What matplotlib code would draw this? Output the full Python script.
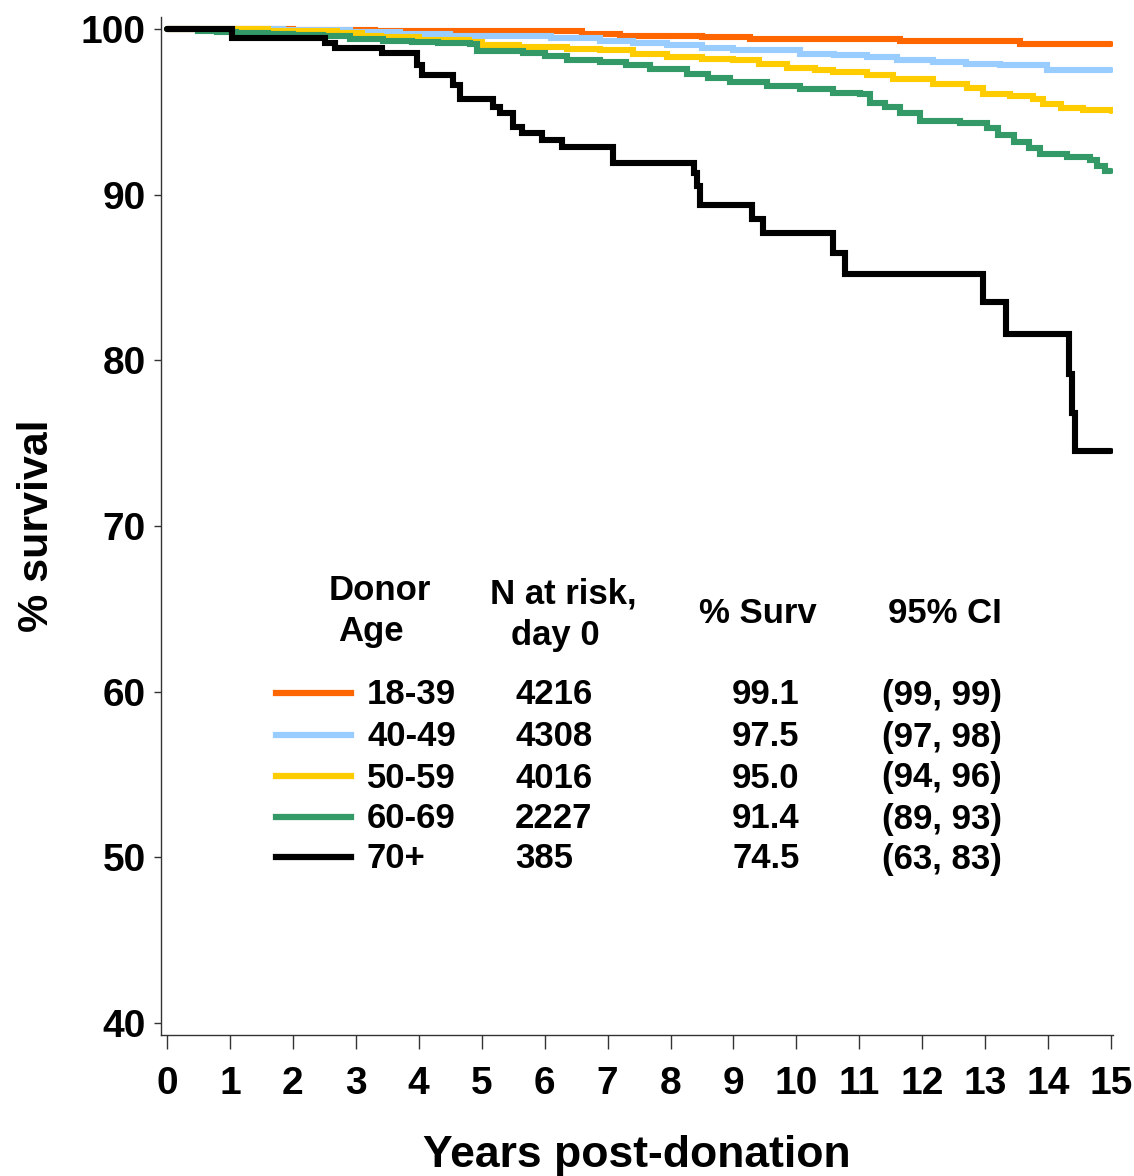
import numpy as np
import matplotlib
matplotlib.use('Agg')
import matplotlib.pyplot as plt
from matplotlib.lines import Line2D

plt.rcParams['font.family'] = ['Liberation Sans', 'DejaVu Sans']
plt.rcParams['font.weight'] = 'bold'

# Kaplan-Meier style step curves (years, % survival)
t_18_39 = [0, 2.0, 3.3, 5.0, 6.6, 7.2, 8.5, 9.26, 11.65, 13.55, 15.0]
s_18_39 = [100, 99.95, 99.9, 99.85, 99.7, 99.6, 99.5, 99.4, 99.25, 99.1, 99.1]

t_40_49 = [0, 1.84, 2.9, 3.7, 4.5, 5.3, 6.1, 6.88, 7.4, 7.94, 8.5, 9.0, 10.06,
           10.6, 11.12, 11.6, 12.17, 12.7, 13.24, 13.98, 15.0]
s_40_49 = [100, 99.95, 99.8, 99.7, 99.6, 99.55, 99.45, 99.3, 99.15, 99.0, 98.85,
           98.7, 98.5, 98.4, 98.3, 98.15, 98.0, 97.9, 97.8, 97.55, 97.5]

t_50_59 = [0, 1.0, 1.6, 2.2, 2.7, 3.1, 3.4, 4.0, 4.8, 5.0, 5.6, 6.35, 6.88, 7.4,
           7.94, 8.5, 9.0, 9.4, 9.85, 10.3, 10.58, 11.12, 11.54, 12.17, 12.71,
           12.97, 13.4, 13.76, 13.92, 14.2, 14.56, 15.0]
s_50_59 = [100, 99.98, 99.9, 99.85, 99.75, 99.6, 99.5, 99.35, 99.2, 99.05, 98.9,
           98.8, 98.7, 98.5, 98.3, 98.2, 98.1, 97.9, 97.65, 97.5, 97.4, 97.2,
           96.95, 96.7, 96.45, 96.1, 95.95, 95.75, 95.45, 95.25, 95.1, 95.05]

t_60_69 = [0, 0.5, 0.8, 1.1, 1.6, 2.0, 2.48, 2.9, 3.43, 3.9, 4.3, 4.81, 4.92,
           5.66, 6.0, 6.35, 6.88, 7.3, 7.67, 8.26, 8.6, 8.95, 9.53, 10.06, 10.58,
           11.01, 11.17, 11.4, 11.65, 11.97, 12.6, 13.03, 13.2, 13.45, 13.7,
           13.87, 14.3, 14.67, 14.78, 14.9, 15.0]
s_60_69 = [100, 99.9, 99.8, 99.75, 99.7, 99.65, 99.55, 99.4, 99.25, 99.2, 99.15,
           99.1, 98.65, 98.55, 98.35, 98.15, 98.0, 97.85, 97.6, 97.25, 97.05,
           96.8, 96.55, 96.35, 96.15, 96.05, 95.5, 95.3, 94.95, 94.45, 94.3,
           94.0, 93.6, 93.2, 92.8, 92.45, 92.3, 92.1, 91.7, 91.4, 91.4]

t_70 = [0, 1.03, 2.51, 2.67, 3.42, 3.97, 4.05, 4.54, 4.66, 5.18, 5.29, 5.50,
        5.64, 5.96, 6.28, 7.09, 8.37, 8.42, 8.47, 9.30, 9.47, 10.58, 10.77,
        12.97, 13.33, 14.33, 14.38, 14.42, 15.0]
s_70 = [100, 99.45, 99.15, 98.85, 98.55, 97.8, 97.2, 96.6, 95.8, 95.3, 94.9,
        94.1, 93.7, 93.3, 92.9, 91.9, 91.3, 90.5, 89.4, 88.5, 87.7, 86.5, 85.2,
        83.5, 81.6, 79.2, 76.8, 74.5, 74.5]

ages = ['18-39', '40-49', '50-59', '60-69', '70+']
n_at_risk = ['4216', '4308', '4016', '2227', '385']
pct_surv = ['99.1', '97.5', '95.0', '91.4', '74.5']
ci = ['(99, 99)', '(97, 98)', '(94, 96)', '(89, 93)', '(63, 83)']
colors = ['#FF6600', '#99CCFF', '#FFCC00', '#339966', '#000000']

curves = [(t_18_39, s_18_39), (t_40_49, s_40_49), (t_50_59, s_50_59),
          (t_60_69, s_60_69), (t_70, s_70)]

W, H = 1134, 1176
fig = plt.figure(figsize=(W / 100, H / 100), dpi=100)
ax = fig.add_axes([161 / W, 1 - 1035 / H, (1113 - 161) / W, (1035 - 17) / H])

for (t, s), c in zip(curves, colors):
    ax.step(t, s, where='post', color=c, lw=4.4, solid_capstyle='round',
            solid_joinstyle='miter')

ax.set_xlim(-0.095, 15.03)
ax.set_ylim(39.28, 100.72)
ax.set_xticks(range(0, 16))
ax.set_yticks([40, 50, 60, 70, 80, 90, 100])
for sp in ['top', 'right']:
    ax.spines[sp].set_visible(False)
for sp in ['left', 'bottom']:
    ax.spines[sp].set_linewidth(1.0)
    ax.spines[sp].set_color('#333333')
ax.tick_params(axis='x', direction='out', length=10, width=1, pad=12,
               labelsize=28, color='#333333')
ax.tick_params(axis='y', direction='out', length=5, width=1, pad=6,
               labelsize=28, color='#333333')
for lab in ax.get_xticklabels() + ax.get_yticklabels():
    lab.set_fontweight('bold')

ax.set_xlabel('Years post-donation', fontsize=32, fontweight='bold', labelpad=24)
ax.set_ylabel('% survival', fontsize=31, fontweight='bold', labelpad=17)


def fx(px):
    return px / W


def fy(py):
    return 1 - py / H


fs = 25
# header
fig.text(fx(380), fy(591), 'Donor', ha='center', va='center', fontsize=fs, fontweight='bold')
fig.text(fx(371), fy(632), 'Age', ha='center', va='center', fontsize=fs, fontweight='bold')
fig.text(fx(563), fy(594), 'N at risk,', ha='center', va='center', fontsize=fs, fontweight='bold')
fig.text(fx(555), fy(635), 'day 0', ha='center', va='center', fontsize=fs, fontweight='bold')
fig.text(fx(758), fy(613), '% Surv', ha='center', va='center', fontsize=fs, fontweight='bold')
fig.text(fx(945), fy(613), '95% CI', ha='center', va='center', fontsize=fs, fontweight='bold')

row_y = [695, 737, 778, 819, 859]
for i in range(len(ages)):
    y = fy(row_y[i])
    fig.add_artist(Line2D([fx(276), fx(351)], [fy(row_y[i] - 2)] * 2, color=colors[i],
                          lw=4.5, transform=fig.transFigure))
    fig.text(fx(367), y, ages[i], ha='left', va='center', fontsize=fs, fontweight='bold')
    fig.text(fx(515), y, n_at_risk[i], ha='left', va='center', fontsize=fs, fontweight='bold')
    fig.text(fx(732), y, pct_surv[i], ha='left', va='center', fontsize=fs, fontweight='bold')
    fig.text(fx(882), y, ci[i], ha='left', va='center', fontsize=fs, fontweight='bold')

fig.savefig('out.png', dpi=100)
